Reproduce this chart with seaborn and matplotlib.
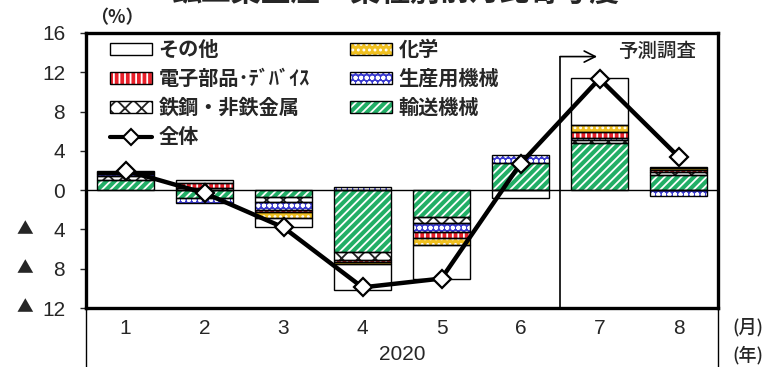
import numpy as np
import pandas as pd
import matplotlib
matplotlib.use("Agg")
import matplotlib.pyplot as plt
from matplotlib.patches import Patch
from matplotlib.lines import Line2D
from matplotlib.legend_handler import HandlerTuple
import seaborn as sns

# ---------------- data ----------------
months = ["1", "2", "3", "4", "5", "6", "7", "8"]
year_label = "2020"
ytick_values = [-12, -8, -4, 0, 4, 8, 12, 16]
ytick_labels = ["12", "8", "4", "0", "4", "8", "12", "16"]
negative_mark = "▲"

transport = [1.0, -0.8, -0.7, -6.3, -2.7, 2.75, 4.8, 1.5]        # 輸送機械
iron = [0.45, 0.2, -0.5, -0.85, -0.6, 0.0, 0.3, 0.35]             # 鉄鋼・非鉄金属
general_mach = [0.2, -0.5, -0.8, 0.35, -1.0, 0.8, 0.2, -0.55]     # 生産用機械
electronics = [0.1, 0.5, -0.2, -0.2, -0.6, 0.0, 0.6, 0.2]         # 電子部品･ﾃﾞﾊﾞｲｽ
chemistry = [0.1, 0.0, -0.6, -0.15, -0.65, 0.0, 0.75, 0.25]       # 化学
other = [0.15, 0.3, -1.0, -2.7, -3.5, -0.8, 4.8, 0.1]             # その他
total = [2.0, -0.3, -3.8, -9.9, -9.0, 2.7, 11.35, 3.4]            # 全体

# name, values, face colour, hatch, hatch colour (stacked from zero outward)
series = [
    ("輸送機械", transport, "#22AE66", "////", "white"),
    ("鉄鋼・非鉄金属", iron, "white", "xx", "#222222"),
    ("生産用機械", general_mach, "#3A3ACF", "ooo", "white"),
    ("電子部品･ﾃﾞﾊﾞｲｽ", electronics, "#E8202A", "|||", "white"),
    ("化学", chemistry, "#F0C020", "...", "white"),
    ("その他", other, "white", "", "white"),
]

# ---------------- style ----------------
sns.set_style("white")
plt.rcParams["font.family"] = ["Liberation Sans", "Noto Sans CJK JP", "DejaVu Sans"]
plt.rcParams["hatch.linewidth"] = 1.3
JP = ["Noto Sans CJK JP", "DejaVu Sans"]

W, H = 766, 367
fig = plt.figure(figsize=(W / 100, H / 100), dpi=100)
L, R, T, B = 86, 718, 33, 308
ax = fig.add_axes([L / W, 1 - B / H, (R - L) / W, (B - T) / H])

pos_base = np.zeros(len(months))
neg_base = np.zeros(len(months))
bw = 0.72
for name, vals, face, hatch, hc in series:
    v = np.array(vals, dtype=float)
    bottom = np.where(v >= 0, pos_base, neg_base)
    df = pd.DataFrame({"month": months, "value": v})
    # hatched fill layer
    sns.barplot(data=df, x="month", y="value", order=months, bottom=bottom,
                color=face, saturation=1, width=bw, errorbar=None, ax=ax)
    for p, val in zip(ax.containers[-1], v):
        p.set_facecolor(face)
        p.set_edgecolor(hc)
        p.set_linewidth(0)
        p.set_hatch(hatch)
        p.set_zorder(2)
        if val == 0:
            p.set_visible(False)
    # outline layer
    sns.barplot(data=df, x="month", y="value", order=months, bottom=bottom,
                color="white", saturation=1, width=bw, errorbar=None, ax=ax)
    for p, val in zip(ax.containers[-1], v):
        p.set_facecolor("none")
        p.set_edgecolor("black")
        p.set_linewidth(1.0)
        p.set_zorder(3)
        if val == 0:
            p.set_visible(False)
    pos_base += np.where(v > 0, v, 0)
    neg_base += np.where(v < 0, v, 0)

# total line
dft = pd.DataFrame({"month": months, "value": total})
sns.pointplot(data=dft, x="month", y="value", order=months, color="black",
              markers="D", linestyles="-", errorbar=None, ax=ax)
ln = ax.lines[-1]
ln.set_linewidth(3.2)
ln.set_markersize(9)
ln.set_markerfacecolor("white")
ln.set_markeredgecolor("black")
ln.set_markeredgewidth(1.6)
ln.set_zorder(6)

ax.axhline(0, color="black", lw=1.0, zorder=4)

# forecast separator
ax.plot([5.5, 5.5], [-12, 13.6], color="black", lw=1.2, zorder=4)
ax.annotate("", xy=(5.97, 13.6), xytext=(5.5, 13.6),
            arrowprops=dict(arrowstyle="->", lw=1.2, color="black",
                            shrinkA=0, shrinkB=0, mutation_scale=20), zorder=4)
ax.text(6.73, 14.1, "予測調査", ha="center", va="center", fontsize=14,
        fontweight="medium", family=JP)

# axes
ax.set_xlim(-0.5, len(months) - 0.5)
ax.set_ylim(-12, 16)
ax.set_yticks(ytick_values)
ax.set_yticklabels(ytick_labels)
ax.set_xlabel("")
ax.set_ylabel("")
for s in ax.spines.values():
    s.set_visible(True)
    s.set_color("black")
    s.set_linewidth(2.4)
ax.tick_params(axis="y", direction="out", length=4, width=1, pad=11, labelsize=15, left=True)
ax.tick_params(axis="x", length=0, pad=8, labelsize=15)

# ▲ marks in front of negative tick labels
ytr = ax.get_yaxis_transform()
for tv in ytick_values:
    if tv < 0:
        ax.text(-0.097, tv, negative_mark, transform=ytr, ha="center", va="center",
                fontsize=12, family=JP, clip_on=False)

# lines below axis and extra labels
ax.plot([0, 0], [0, -0.22], transform=ax.transAxes, color="black", lw=1, clip_on=False)
ax.plot([1, 1], [0, -0.22], transform=ax.transAxes, color="black", lw=1, clip_on=False)
fig.text((L + R) / 2 / W, 1 - 355 / H, year_label, ha="center", va="center", fontsize=15)
fig.text(732 / W, 1 - 327 / H, "(月)", ha="left", va="center", fontsize=13,
         fontweight="medium", family=JP)
fig.text(732 / W, 1 - 355 / H, "(年)", ha="left", va="center", fontsize=13,
         fontweight="medium", family=JP)
fig.text(90 / W, 1 - 18 / H, "（%）", ha="left", va="center", fontsize=13,
         fontweight="bold", family=JP)
fig.text(396 / W, 1 - 0.5 / H, "鉱工業生産・業種別前月比寄与度", ha="center",
         va="baseline", fontsize=21.5, fontweight="bold", family=JP)

# legend
def handle(face, hatch, hc):
    return (Patch(facecolor=face, edgecolor=hc, hatch=hatch, linewidth=0),
            Patch(facecolor="none", edgecolor="black", linewidth=1.0))

sty = {name: (face, hatch, hc) for name, _, face, hatch, hc in series}
order = ["その他", "電子部品･ﾃﾞﾊﾞｲｽ", "鉄鋼・非鉄金属", "全体", "化学", "生産用機械", "輸送機械"]
handles = []
for nm in order:
    if nm == "全体":
        handles.append(Line2D([], [], color="black", lw=3, marker="D", ms=8,
                              mfc="white", mec="black", mew=1.5))
    else:
        handles.append(handle(*sty[nm]))
leg = ax.legend(handles, order, ncol=2, loc="upper left", bbox_to_anchor=(0.038, 0.978),
                frameon=False, handler_map={tuple: HandlerTuple(ndivide=1)},
                prop={"family": JP, "size": 14.5, "weight": "bold"},
                handlelength=2.1, handleheight=0.5, handletextpad=0.3,
                labelspacing=0.40, columnspacing=2.0, borderaxespad=0, borderpad=0)
leg.set_zorder(7)

fig.savefig("out.png", dpi=100)
